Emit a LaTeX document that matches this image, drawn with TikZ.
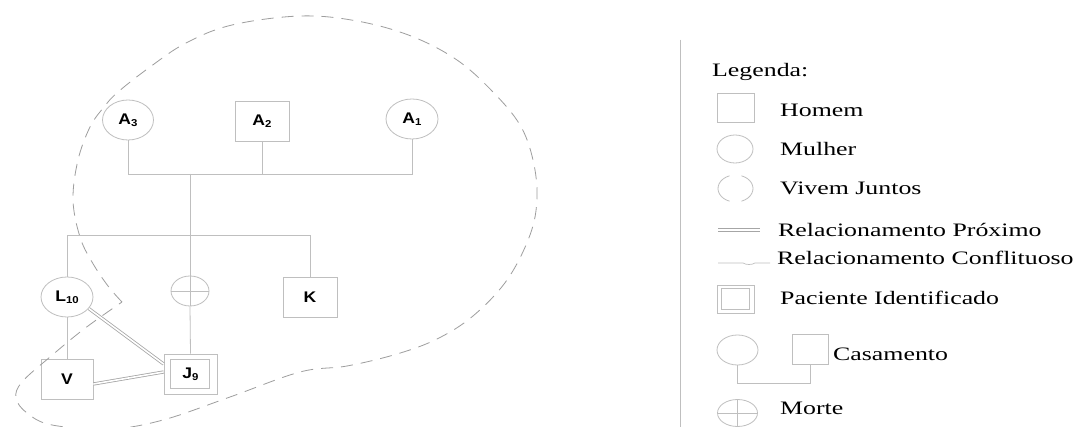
\documentclass[tikz,border=0pt]{standalone}
\usepackage{fontspec}
\setmainfont{Liberation Serif}
\newfontfamily\labfont[FakeStretch=1.14]{Liberation Sans}
\newfontfamily\legfont[FakeStretch=1.36]{Liberation Serif}
\usetikzlibrary{shapes.geometric,calc}
\newcommand\lsub[1]{\raisebox{-2pt}{\fontsize{10}{10}\selectfont #1}}
\tikzset{
  ln/.style={draw=black!25, line width=0.8pt},
  lab/.style={font=\labfont\bfseries\fontsize{15.4}{15.4}\selectfont},
  male/.style={rectangle, ln, lab, minimum width=54pt, minimum height=40pt, inner sep=0pt},
  female/.style={ellipse, ln, lab, minimum width=51pt, minimum height=40pt, inner sep=0pt},
  rel/.style={draw=black!35, line width=0.8pt, double=white, double distance=1.6pt},
  boundary/.style={draw=black!38, line width=0.8pt, dash pattern=on 12pt off 8pt},
  legtext/.style={anchor=base west, inner sep=0pt, font=\legfont\fontsize{19}{19}\selectfont},
}
\begin{document}
\begin{tikzpicture}[x=1pt,y=-1pt]
\useasboundingbox[fill=white] (0,0) rectangle (1079,427);

% ---------- genogram ----------
\node[female] (A3) at (128,120) {A\lsub{3}};
\node[male]   (A2) at (262,121) {A\lsub{2}};
\node[female, minimum width=52pt] (A1) at (412,119) {A\lsub{1}};

\node[female, minimum width=52pt] (L10) at (67,297) {L\lsub{10}};
\node[ellipse, ln, minimum width=38pt, minimum height=30pt, inner sep=0pt] (D) at (190,291) {};
\node[male] (K) at (310,297) {K};
\node[male, minimum width=52pt] (V) at (67,379) {V};
\node[male, minimum width=53pt] (J9) at (190.5,374) {J\lsub{9}};
\draw[ln] ($(J9.north west)+(7,5.5)$) rectangle ($(J9.south east)+(-8,-5.5)$);

\coordinate (pj) at (190,174);
\coordinate (sib) at (190,235);

\draw[ln] (A3.south) -- (A3.south |- pj) -- (A1.south |- pj) -- (A1.south);
\draw[ln] (A2.south) -- (A2.south |- pj);
\draw[ln] (pj) -- (D.north);
\draw[ln] (D.north) -- (D.south);
\draw[ln] (D.west) -- (D.east);
\draw[ln] (D.south) -- (J9.north);
\draw[ln] (L10.north) -- (L10.north |- sib) -- (K.north |- sib) -- (K.north);
\draw[ln] (L10.south) -- (V.north);

\draw[rel] (L10.-28) -- ($(J9.west)+(0,-10)$);
\draw[rel] ($(V.east)+(0,5)$) -- ($(J9.west)+(0,-2)$);

% boundary
\draw[boundary] plot[smooth, tension=0.6] coordinates {
 (122,302) (108,286) (92,262) (80,237) (73,200) (78,160) (90,127) (104,107)
 (118,92) (150,67) (186,43) (232,25) (300,16) (357,21) (411,36) (457,60)
 (493,92) (520,125) (533,160) (537,198) (530,235) (507,280) (473,316)
 (437,339) (397,354) (347,366) (300,372) (230,397) (163,420) (110,429)
 (52,425) (27,413) (16,398) (22,382) (50,357) (84,329) (122,302)};

% ---------- legend ----------
\coordinate (vt) at (680,40);
\coordinate (vb) at (680,427);
\draw[ln] (vt) -- (vb);

\node[legtext] (tleg) at (712,77) {Legenda:};

\node[rectangle, ln, minimum width=37pt, minimum height=29pt, inner sep=0pt] (lh) at (735.5,107.5) {};
\node[legtext] (th) at (780,117) {Homem};

\node[ellipse, ln, minimum width=36pt, minimum height=28pt, inner sep=0pt] (lm) at (735,149) {};
\node[legtext] (tm) at (780,156) {Mulher};

\coordinate (lv) at (735.5,188.5);
\draw[ln] (lv) ++(110:17.5 and 13.5) arc[start angle=110, end angle=250, x radius=17.5, y radius=13.5];
\draw[ln] (lv) ++(-70:17.5 and 13.5) arc[start angle=-70, end angle=70, x radius=17.5, y radius=13.5];
\node[legtext] (tv) at (780,195) {Vivem Juntos};

\coordinate (p1) at (718,230);
\coordinate (p2) at (760,230);
\draw[rel] (p1) -- (p2);
\node[legtext] (tp) at (778,237) {Relacionamento Próximo};

\coordinate (c1) at (718,263);
\coordinate (c2) at (770,263);
\draw[ln, line width=0.7pt] (c1) -- ++(25,0) .. controls +(3,2) and +(-3,2) .. ++(12,0) -- (c2);
\node[legtext] (tc) at (777,265) {Relacionamento Conflituoso};

\node[rectangle, ln, minimum width=37pt, minimum height=28pt, inner sep=0pt] (lpi) at (735.5,299) {};
\draw[ln] ($(lpi.north west)+(5,4)$) rectangle ($(lpi.south east)+(-5,-4)$);
\node[legtext] (tpi) at (780,305) {Paciente Identificado};

\node[ellipse, ln, minimum width=41pt, minimum height=30pt, inner sep=0pt] (lcf) at (737.5,350) {};
\node[rectangle, ln, minimum width=36pt, minimum height=30pt, inner sep=0pt] (lcm) at (810,349) {};
\coordinate (cb) at (737.5,383);
\draw[ln] (lcf.south) -- (cb) -- (lcm.south |- cb) -- (lcm.south);
\node[legtext] (tca) at (833,361) {Casamento};

\node[ellipse, ln, minimum width=40pt, minimum height=27pt, inner sep=0pt] (lmo) at (737.5,413) {};
\draw[ln] (lmo.north) -- (lmo.south);
\draw[ln] (lmo.west) -- (lmo.east);
\node[legtext] (tmo) at (780,414) {Morte};
\end{tikzpicture}
\end{document}
